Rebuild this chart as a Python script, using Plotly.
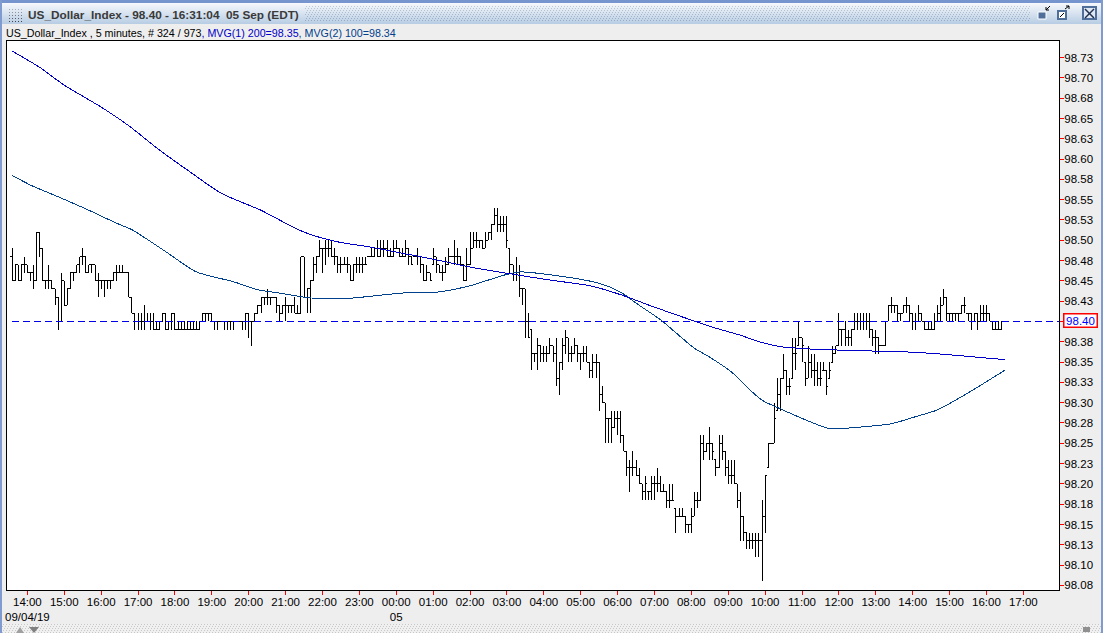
import zlib, struct, base64
import plotly.graph_objects as go

# Prices as hundredths above 98.00, one value per 5-minute bar
high_c = [49,47,47,47,48,47,46,47,51,51, 49,45,47,45,44,43,46,45,44,46,
 46,47,48,49,48,47,47,47,46,45, 45,45,45,46,47,47,47,46,46,43,
 41,41,41,42,41,41,41,40,40,41, 41,40,41,41,40,40,40,40,40,40,
 40,40,41,41,41,41,40,40,40,40, 40,40,40,40,40,40,41,41,40,41,
 42,43,43,44,43,43,43,42,42,43, 42,42,43,42,48,48,44,45,48,48,
 50,49,50,50,50,49,48,48,48,48, 47,47,48,48,48,48,48,49,49,50,
 50,50,50,49,50,50,49,49,50,49, 48,48,49,48,47,47,46,49,48,47,
 47,48,49,48,50,49,48,47,49,51, 51,51,50,50,51,51,52,54,54,53,
 53,53,49,47,48,47,44,44,41,39, 36,38,37,37,37,38,37,38,35,38,
 39,38,37,38,37,36,37,37,35,36, 36,35,32,30,28,29,29,29,29,26,
 24,23,24,23,22,20,21,19,21,21, 22,21,20,19,20,20,17,17,17,16,
 15,17,19,19,26,26,25,27,25,23, 26,26,24,23,23,23,20,19,16,14,
 14,14,14,14,18,21,25,25,30,33, 33,36,34,33,38,38,40,38,35,37,
 36,36,35,35,35,34,35,37,37,41, 39,40,39,39,41,41,41,41,41,41,
 39,39,38,37,40,42,43,42,42,41, 42,43,42,41,41,42,41,40,40,40,
 41,42,43,44,43,41,41,41,41,42, 43,41,41,41,41,42,42,42,41,40, 40,40,40]
low_c = [45,45,45,45,46,46,45,44,45,48, 45,44,44,44,42,39,40,42,42,44,
 45,46,46,47,46,46,46,45,43,44, 43,44,44,45,45,46,46,46,43,41,
 39,39,39,39,40,39,39,39,39,40, 39,39,39,39,39,39,39,39,39,39,
 39,39,40,40,40,40,39,39,40,39, 39,39,39,40,40,39,39,38,37,40,
 41,41,42,42,42,43,41,40,41,40, 41,41,41,41,41,43,41,41,45,46,
 48,46,47,48,48,47,46,46,47,46, 45,45,46,46,46,47,48,48,48,48,
 48,48,48,48,48,49,48,48,48,47, 47,48,47,46,45,45,45,47,46,46,
 45,46,47,48,47,47,47,45,45,47, 49,49,49,49,49,50,50,52,51,51,
 51,49,46,45,45,43,42,38,38,34, 35,34,35,35,35,36,35,32,31,34,
 36,35,35,36,35,34,35,35,33,33, 33,29,30,25,25,25,27,26,25,24,
 21,19,21,21,20,18,18,18,18,18, 19,19,19,17,17,18,14,16,16,14,
 14,14,16,17,18,23,24,23,23,21, 22,23,21,20,20,20,17,13,13,12,
 12,12,11,11,8,14,22,25,25,29, 29,33,31,31,33,34,37,35,32,33,
 33,32,32,32,34,31,33,35,36,37, 37,37,37,37,39,39,39,39,39,38,
 37,36,36,37,37,40,41,41,40,40, 41,41,40,39,39,40,40,39,39,39,
 39,40,40,42,40,40,40,40,40,41, 41,40,39,40,39,40,40,40,40,39, 39,39,39]
close_c = [45,47,45,47,47,46,46,45,51,49, 45,45,45,44,43,40,45,42,44,46,
 46,47,48,48,46,47,47,45,45,45, 45,45,45,46,46,46,46,46,43,41,
 40,40,40,40,40,40,39,39,40,41, 39,40,41,39,39,39,39,39,39,39,
 39,40,41,41,41,40,40,40,40,40, 40,40,40,40,40,40,41,40,40,41,
 42,43,43,43,43,43,42,41,42,42, 42,42,41,41,48,43,44,45,47,48,
 49,49,49,49,48,48,47,47,47,47, 45,47,47,47,47,47,48,48,49,48,
 49,49,48,48,49,49,48,48,49,48, 47,48,48,47,45,46,45,48,47,46,
 46,47,48,48,48,48,47,45,47,49, 50,50,50,49,50,51,52,53,52,52,
 52,50,47,46,46,44,44,40,38,36, 36,37,36,36,36,37,36,33,35,37,
 38,36,36,37,36,36,36,35,34,35, 35,31,30,28,28,27,28,28,26,24,
 22,22,22,21,20,19,20,19,20,20, 20,19,19,18,18,18,16,16,16,15,
 15,16,18,18,25,24,25,25,24,22, 25,24,22,21,21,20,18,16,14,13,
 13,13,13,13,16,21,25,25,28,31, 33,34,32,32,36,36,38,37,33,35,
 34,34,33,33,34,32,34,36,37,39, 39,38,38,39,40,40,40,40,40,39,
 38,38,37,37,40,42,42,42,41,41, 42,42,41,40,40,41,40,39,39,39,
 40,41,42,43,41,41,41,41,41,42, 42,41,40,41,40,41,41,41,40,39, 39,39,40]
open_c = [48,45,47,45,47,47,46,46,45,51, 49,45,45,45,44,43,40,45,42,44,
 46,46,47,48,48,46,47,47,45,45, 45,45,45,45,46,46,46,46,46,43,
 41,40,40,40,40,40,40,39,39,40, 41,39,40,41,39,39,39,39,39,39,
 39,39,40,41,41,41,40,40,40,40, 40,40,40,40,40,40,40,41,40,40,
 41,42,43,43,43,43,43,42,41,42, 42,42,42,41,41,48,43,44,45,47,
 48,49,49,49,49,48,48,47,47,47, 47,45,47,47,47,47,48,48,48,49,
 48,49,49,48,48,49,49,48,48,49, 48,48,48,48,47,45,46,47,48,47,
 46,46,47,48,48,48,48,47,45,47, 49,50,50,50,49,50,51,52,53,52,
 52,52,49,47,46,46,44,44,40,39, 36,36,37,36,36,36,37,36,33,35,
 37,38,36,36,37,36,36,36,35,34, 35,35,31,30,28,28,27,28,28,26,
 24,22,22,22,21,20,19,19,19,20, 20,20,19,19,18,18,17,16,16,16,
 15,15,16,18,18,25,24,25,25,23, 22,25,24,22,21,21,20,18,16,14,
 13,13,13,13,13,16,22,25,25,29, 31,33,34,32,33,36,37,38,35,33,
 35,34,34,33,34,34,33,35,36,37, 39,39,38,38,39,40,40,40,40,40,
 39,38,38,37,37,40,42,42,42,41, 41,42,42,41,40,40,41,40,39,39,
 39,40,41,42,43,41,41,41,41,41, 42,41,41,40,41,40,41,41,41,40, 39,39,39]
assert len(high_c) == len(low_c) == len(close_c) == len(open_c)

mvg1_bar = [0,9,17,29,38,48,58,68,81,84,95,106,116,127,138,149,160,175,188,198,208,217,227,237,243,250,260,276,294,308,323]
mvg1_val = [98.733,98.713,98.691,98.664,98.641,98.611,98.584,98.558,98.537,98.531,98.510,98.498,98.492,98.484,98.476,98.467,98.460,98.451,98.444,98.433,98.419,98.407,98.394,98.383,98.375,98.369,98.366,98.364,98.362,98.358,98.353]
mvg2_bar = [0,6,16,25,34,39,50,60,72,80,87,97,108,127,138,149,160,165,174,191,198,204,211,216,222,227,234,240,244,249,260,266,276,286,295,301,311,323]
mvg2_val = [98.580,98.568,98.552,98.537,98.521,98.513,98.486,98.461,98.449,98.439,98.435,98.429,98.428,98.435,98.436,98.444,98.457,98.461,98.458,98.447,98.436,98.420,98.402,98.386,98.367,98.356,98.338,98.316,98.303,98.294,98.276,98.268,98.270,98.274,98.284,98.291,98.312,98.340]

last_price = 98.40
y_ticks = [98.725,98.70,98.675,98.65,98.625,98.60,98.575,98.55,98.525,98.50,98.475,98.45,98.425,98.40,98.375,98.35,98.325,98.30,98.275,98.25,98.225,98.20,98.175,98.15,98.125,98.10,98.075]
y_labels = ["98.73","98.70","98.68","98.65","98.63","98.60","98.58","98.55","98.53","98.50","98.48","98.45","98.43","98.40","98.38","98.35","98.33","98.30","98.28","98.25","98.23","98.20","98.18","98.15","98.13","98.10","98.08"]
x_tick_bars = [5,17,29,41,53,65,77,89,101,113,125,137,149,161,173,185,197,209,221,233,245,257,269,281,293,305,317,329]
x_labels = ["14:00<br>09/04/19","15:00","16:00","17:00","18:00","19:00","20:00","21:00","22:00","23:00","00:00<br>05","01:00","02:00","03:00","04:00","05:00","06:00","07:00","08:00","09:00","10:00","11:00","12:00","13:00","14:00","15:00","16:00","17:00"]

bars = list(range(len(high_c)))
to_price = lambda c: [round(98 + v / 100, 2) for v in c]

W, H = 1103, 633
PL, PR, PT, PB = 7, 1059, 41, 590
px = lambda x: (x - PL) / (PR - PL)
py = lambda y: 1 - (y - PT) / (PB - PT)
FONT = "Liberation Sans"


def png(w, h, fn):
    raw = bytearray()
    for y in range(h):
        raw.append(0)
        for x in range(w):
            raw.extend(fn(x, y))
    def chunk(t, d):
        return struct.pack(">I", len(d)) + t + d + struct.pack(">I", zlib.crc32(t + d))
    data = b"\x89PNG\r\n\x1a\n" + chunk(b"IHDR", struct.pack(">IIBBBBB", w, h, 8, 2, 0, 0, 0)) + chunk(b"IDAT", zlib.compress(bytes(raw))) + chunk(b"IEND", b"")
    return "data:image/png;base64," + base64.b64encode(data).decode()


def title_px(x, y):
    if y < 3:
        return (118, 148, 205)
    t = (y - 3) / 20
    c = (int(245 - 60 * t), int(248 - 42 * t), int(252 - 24 * t))
    if 305 <= x < 1030 and 5 <= y < 22 and y % 2 == 0 and (x + y // 2) % 3 == 0:
        return (c[0] - 45, c[1] - 40, c[2] - 35)
    if 8 <= x < 23 and 7 <= y < 22 and x % 3 == 0 and y % 3 == 0:
        k = 60 + int(130 * (1 - (y - 7) / 15))
        return (k, k, k + 10)
    return c


def foot_px(x, y):
    if (x + (y // 2)) % 3 == 0 and y % 2 == 0:
        return (200, 200, 200)
    return (240, 240, 240)


images = [
    dict(source=png(W, 24, title_px), xref="paper", yref="paper", x=px(0), y=py(0), sizex=W / (PR - PL), sizey=24 / (PB - PT), sizing="stretch", xanchor="left", yanchor="top", layer="below"),
    dict(source=png(W, 9, foot_px), xref="paper", yref="paper", x=px(0), y=py(624), sizex=W / (PR - PL), sizey=9 / (PB - PT), sizing="stretch", xanchor="left", yanchor="top", layer="below"),
]


def rect(x0, y0, x1, y1, fill=None, line=None, w=1, layer="above"):
    return dict(type="rect", xref="paper", yref="paper", x0=px(x0), x1=px(x1), y0=py(y0), y1=py(y1), fillcolor=fill or "rgba(0,0,0,0)", line=dict(color=line or "rgba(0,0,0,0)", width=w if line else 0), layer=layer)


def seg(x0, y0, x1, y1, color="#000000", w=1):
    return dict(type="line", xref="paper", yref="paper", x0=px(x0), x1=px(x1), y0=py(y0), y1=py(y1), line=dict(color=color, width=w), layer="above")


shapes = [
    rect(0, 0, 2, H, "#7f9bd0"), rect(1101, 0, W, H, "#7f9bd0"),
    # window buttons
    rect(1038, 12, 1046, 19, "#4f6e9a", "#ffffff", 1),
    seg(1046, 10, 1050, 6), seg(1046, 10, 1046, 7), seg(1046, 10, 1049, 10),
    rect(1058, 11, 1066, 19, "#ffffff", "#4f6e9a", 2),
    seg(1060, 17, 1064, 13), seg(1065, 9, 1069, 6), seg(1069, 6, 1066, 6), seg(1069, 6, 1069, 9),
    rect(1083, 7, 1096, 19, "#dfe8f2", "#4f6e9a", 2),
    seg(1085, 9, 1094, 18, "#1f2f4f", 1.5), seg(1094, 9, 1085, 18, "#1f2f4f", 1.5),
    # foot-bar arrows
    dict(type="path", xref="paper", yref="paper", path=f"M {px(16)},{py(633)} L {px(20)},{py(627)} L {px(24)},{py(633)} Z", fillcolor="#a0a0a0", line=dict(width=0), layer="above"),
    dict(type="path", xref="paper", yref="paper", path=f"M {px(29)},{py(627)} L {px(39)},{py(627)} L {px(34)},{py(633)} Z", fillcolor="#808080", line=dict(width=0), layer="above"),
    rect(1083, 627, 1090, 632, "#909090"),
]

annotations = [
    dict(xref="paper", yref="paper", x=px(26), y=py(15), xanchor="left", yanchor="middle", showarrow=False,
         text="<b>US_Dollar_Index - 98.40 - 16:31:04&nbsp;&nbsp;05 Sep (EDT)</b>", font=dict(family=FONT, size=11.8, color="#3a3a3a")),
    dict(xref="paper", yref="paper", x=px(4), y=py(33), xanchor="left", yanchor="middle", showarrow=False,
         text='US_Dollar_Index , 5 minutes, # 324 / 973<span style="color:#0000c8">, MVG(1) 200=98.35</span><span style="color:#00408c">, MVG(2) 100=98.34</span>',
         font=dict(family=FONT, size=10.7, color="#000000")),
    dict(xref="paper", yref="y", x=px(1080), y=98.4015, xanchor="center", yanchor="middle", showarrow=False, width=32, height=12,
         text="98.40", font=dict(family=FONT, size=11.5, color="#0000ff"), bgcolor="#ffffff", bordercolor="#ff0000", borderwidth=1.5, borderpad=0),
]

fig = go.Figure()
fig.add_trace(go.Scatter(x=[bars[0], 340.6], y=[last_price, last_price], mode="lines", line=dict(color="#0000e6", width=1, dash="7px,4px"), hoverinfo="skip", showlegend=False))
fig.add_trace(go.Ohlc(x=bars, open=to_price(open_c), high=to_price(high_c), low=to_price(low_c), close=to_price(close_c),
                      increasing=dict(line=dict(color="#000000", width=1)), decreasing=dict(line=dict(color="#000000", width=1)),
                      tickwidth=0.5, showlegend=False, name="US_Dollar_Index"))
fig.add_trace(go.Scatter(x=mvg2_bar, y=mvg2_val, mode="lines", line=dict(color="#00408c", width=1, shape="spline", smoothing=0.7), showlegend=False, name="MVG(2) 100"))
fig.add_trace(go.Scatter(x=mvg1_bar, y=mvg1_val, mode="lines", line=dict(color="#0000c8", width=1, shape="spline", smoothing=0.7), showlegend=False, name="MVG(1) 200"))

fig.update_layout(
    width=W, height=H, autosize=False,
    margin=dict(l=PL, r=W - PR, t=PT, b=H - PB, pad=0, autoexpand=False),
    paper_bgcolor="#eeeeee", plot_bgcolor="#ffffff",
    font=dict(family=FONT, size=11.5, color="#000000"),
    showlegend=False, images=images, shapes=shapes, annotations=annotations,
    xaxis=dict(range=[-1.63, 340.6], tickmode="array", tickvals=x_tick_bars, ticktext=x_labels, ticks="outside", ticklen=4, tickcolor="#ff0000", tickwidth=1,
               showgrid=False, zeroline=False, showline=True, linecolor="#000000", linewidth=1, mirror=True, rangeslider=dict(visible=False), tickangle=0, automargin=False, ticklabelstandoff=-3),
    yaxis=dict(range=[98.0693, 98.7454], side="right", tickmode="array", tickvals=y_ticks, ticktext=y_labels, ticks="outside", ticklen=4, tickcolor="#ff0000", tickwidth=1,
               showgrid=False, zeroline=False, showline=True, linecolor="#000000", linewidth=1, mirror=True, automargin=False, ticklabelstandoff=-2),
)

post = """
document.body.style.margin='0';document.body.style.overflow='hidden';
document.querySelectorAll('.ohlclayer path,.scatterlayer path.js-line').forEach(function(p){p.style.shapeRendering='crispEdges';});
"""
fig.write_html("out.html", post_script=post, config=dict(displayModeBar=False))
